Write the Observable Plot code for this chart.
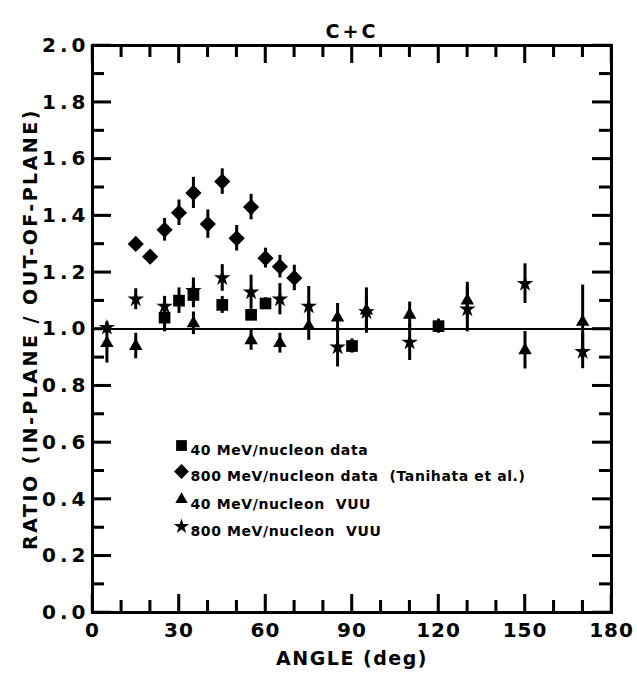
<!DOCTYPE html>
<html><head><meta charset="utf-8">
<script src="https://cdn.jsdelivr.net/npm/d3@7"></script>
<script src="https://cdn.jsdelivr.net/npm/@observablehq/plot@0.6"></script>
<style>body{margin:0;background:#fff;}</style>
</head><body><div id="chart"></div>
<script>
const title = "C+C";
const xLabel = "ANGLE (deg)";
const yLabel = "RATIO (IN-PLANE / OUT-OF-PLANE)";
const xTickLabels = [0, 30, 60, 90, 120, 150, 180];
const xMinorTicks = [10, 20, 40, 50, 70, 80, 100, 110, 130, 140, 160, 170];
const yTickLabels = [0, 0.2, 0.4, 0.6, 0.8, 1.0, 1.2, 1.4, 1.6, 1.8, 2.0];
const yMinorTicks = [0.1, 0.3, 0.5, 0.7, 0.9, 1.1, 1.3, 1.5, 1.7, 1.9];
const xDomain = [0, 180];
const yDomain = [0, 2];
const referenceRatio = [1.0];

const legendLabels = [
  "40 MeV/nucleon data",
  "800 MeV/nucleon data  (Tanihata et al.)",
  "40 MeV/nucleon  VUU",
  "800 MeV/nucleon  VUU"
];

// 40 MeV/nucleon data (squares)
const data40Angle = [25, 30, 35, 45, 55, 60, 90, 120];
const data40Ratio = [1.04, 1.10, 1.12, 1.085, 1.05, 1.09, 0.94, 1.01];
const data40Err   = [0.05, 0.045, 0.045, 0.03, 0.02, 0.02, 0.025, 0.025];

// 800 MeV/nucleon data, Tanihata et al. (diamonds)
const data800Angle = [15, 20, 25, 30, 35, 40, 45, 50, 55, 60, 65, 70];
const data800Ratio = [1.30, 1.255, 1.35, 1.41, 1.48, 1.37, 1.52, 1.32, 1.43, 1.25, 1.22, 1.18];
const data800Err   = [0.02, 0.02, 0.04, 0.045, 0.055, 0.05, 0.045, 0.045, 0.045, 0.035, 0.04, 0.045];

// 40 MeV/nucleon VUU (triangles)
const vuu40Angle = [5, 15, 35, 55, 65, 75, 85, 95, 110, 130, 150, 170];
const vuu40Ratio = [0.95, 0.94, 1.02, 0.96, 0.95, 1.01, 1.04, 1.065, 1.05, 1.10, 0.925, 1.025];
const vuu40Err   = [0.07, 0.045, 0.04, 0.035, 0.035, 0.05, 0.05, 0.08, 0.045, 0.065, 0.066, 0.13];

// 800 MeV/nucleon VUU (stars)
const vuu800Angle = [5, 15, 25, 35, 45, 55, 65, 75, 85, 95, 110, 130, 150, 170];
const vuu800Ratio = [1.005, 1.105, 1.08, 1.135, 1.18, 1.13, 1.105, 1.08, 0.936, 1.06, 0.953, 1.07, 1.16, 0.92];
const vuu800Err   = [0.02, 0.037, 0.035, 0.045, 0.047, 0.06, 0.055, 0.07, 0.07, 0.06, 0.064, 0.08, 0.07, 0.06];

const rows = (A, R, E) => A.map((a, i) => ({angle: a, ratio: R[i], err: E[i]}));
const series = [
  {rows: rows(data40Angle, data40Ratio, data40Err), symbol: "square", r: 6.6},
  {rows: rows(data800Angle, data800Ratio, data800Err), symbol: "diamond2", r: 7.3},
  {rows: rows(vuu40Angle, vuu40Ratio, vuu40Err), symbol: "triangle", r: 5.0},
  {rows: rows(vuu800Angle, vuu800Ratio, vuu800Err), symbol: "star", r: 5.2}
];

const W = 637, H = 678, mL = 92, mR = 26, mT = 45, mB = 66;
const font = "DejaVu Sans";
const fw = "bold";
const TICK_MAJ_H = 18, TICK_MIN_H = 12, TICK_MAJ_V = 19, TICK_MIN_V = 12;

// tick lengths (pixels) converted into data units for inward tick rules
const pxX = (xDomain[1] - xDomain[0]) / (W - mL - mR);
const pxY = (yDomain[1] - yDomain[0]) / (H - mT - mB);
const majX = TICK_MAJ_H * pxY, minX = TICK_MIN_H * pxY;
const majY = TICK_MAJ_V * pxX, minY = TICK_MIN_V * pxX;
const ts = {stroke: "black", strokeWidth: 2.5};

const marks = [
  Plot.frame({strokeWidth: 3, stroke: "black"}),
  Plot.ruleY(referenceRatio, {strokeWidth: 2, stroke: "black"}),
  // inward ticks on all four sides
  Plot.ruleX(xTickLabels, {x: d => d, y1: yDomain[0], y2: yDomain[0] + majX, ...ts}),
  Plot.ruleX(xMinorTicks, {x: d => d, y1: yDomain[0], y2: yDomain[0] + minX, ...ts}),
  Plot.ruleX(xTickLabels, {x: d => d, y1: yDomain[1], y2: yDomain[1] - majX, ...ts}),
  Plot.ruleX(xMinorTicks, {x: d => d, y1: yDomain[1], y2: yDomain[1] - minX, ...ts}),
  Plot.ruleY(yTickLabels, {y: d => d, x1: xDomain[0], x2: xDomain[0] + majY, ...ts}),
  Plot.ruleY(yMinorTicks, {y: d => d, x1: xDomain[0], x2: xDomain[0] + minY, ...ts}),
  Plot.ruleY(yTickLabels, {y: d => d, x1: xDomain[1], x2: xDomain[1] - majY, ...ts}),
  Plot.ruleY(yMinorTicks, {y: d => d, x1: xDomain[1], x2: xDomain[1] - minY, ...ts}),
  // tick labels
  Plot.axisX(xTickLabels, {anchor: "bottom", tickSize: 0, tickPadding: 10, tickFormat: d3.format("d"),
    fontSize: 20, fontWeight: fw, fontFamily: font, label: null}),
  Plot.axisY(yTickLabels, {anchor: "left", tickSize: 0, tickPadding: 3, tickFormat: d3.format(".1f"),
    fontSize: 20, fontWeight: fw, fontFamily: font, label: null}),
  // titles
  Plot.text([title], {frameAnchor: "top", dy: -21, fontSize: 19, fontWeight: fw, fontFamily: font}),
  Plot.text([xLabel], {frameAnchor: "bottom", dy: 52, fontSize: 19, fontWeight: fw, fontFamily: font}),
  Plot.text([yLabel], {frameAnchor: "left", dx: -62, rotate: -90, textAnchor: "middle", fontSize: 19, fontWeight: fw, fontFamily: font})
];

for (const s of series) {
  marks.push(Plot.ruleX(s.rows, {x: "angle", y1: d => d.ratio - d.err, y2: d => d.ratio + d.err, strokeWidth: 3, stroke: "black"}));
  marks.push(Plot.dot(s.rows, {x: "angle", y: "ratio", symbol: () => s.symbol, r: s.r, fill: "black", stroke: "none"}));
}

// legend inside the frame
const legendDy = [400, 426, 454, 481];
series.forEach((s, i) => {
  marks.push(Plot.dot([legendLabels[i]], {frameAnchor: "top-left", dx: 89, dy: legendDy[i], symbol: () => s.symbol, r: s.r * 0.92, fill: "black", stroke: "none"}));
  marks.push(Plot.text([legendLabels[i]], {frameAnchor: "top-left", dx: 98, dy: legendDy[i], textAnchor: "start",
    fontSize: 14, fontWeight: fw, fontFamily: font}));
});

const chart = Plot.plot({
  width: W,
  height: H,
  marginLeft: mL,
  marginRight: mR,
  marginTop: mT,
  marginBottom: mB,
  x: {domain: xDomain},
  y: {domain: yDomain},
  symbol: {type: "identity"},
  marks
});
document.getElementById("chart").append(chart);

const svgEl = chart.tagName.toLowerCase() === "svg" ? chart : chart.querySelector("svg");
const svg = d3.select(svgEl);

// inward ticks positioned through Plot's own scales (ensures they are drawn)
const sx = chart.scale("x"), sy = chart.scale("y");
const X0 = sx.apply(xDomain[0]), X1 = sx.apply(xDomain[1]);
const Y0 = sy.apply(yDomain[0]), Y1 = sy.apply(yDomain[1]);
const tg = svg.append("g").attr("stroke", "black").attr("stroke-width", 2.5).attr("aria-label", "inward ticks");
const seg = (x1, y1, x2, y2) => tg.append("line").attr("x1", x1).attr("y1", y1).attr("x2", x2).attr("y2", y2);
[[xTickLabels, TICK_MAJ_H], [xMinorTicks, TICK_MIN_H]].forEach(([vals, len]) => vals.forEach(v => {
  const X = sx.apply(v);
  seg(X, Y0, X, Y0 - len);
  seg(X, Y1, X, Y1 + len);
}));
[[yTickLabels, TICK_MAJ_V], [yMinorTicks, TICK_MIN_V]].forEach(([vals, len]) => vals.forEach(v => {
  const Y = sy.apply(v);
  seg(X0, Y, X0 + len, Y);
  seg(X1, Y, X1 - len, Y);
}));

// letter spacing to mimic the wide lettering of the original
svg.selectAll('[aria-label="y-axis tick label"] text').attr("letter-spacing", 4);
svg.selectAll('[aria-label="x-axis tick label"] text').attr("letter-spacing", 1);
svg.selectAll("text").each(function() {
  const t = this.textContent;
  if (t === yLabel) this.setAttribute("letter-spacing", 2.5);
  else if (t === xLabel) this.setAttribute("letter-spacing", 1.5);
  else if (t === title) this.setAttribute("letter-spacing", 3);
  else if (legendLabels.includes(t)) this.setAttribute("letter-spacing", 0.6);
});
</script>
</body></html>
